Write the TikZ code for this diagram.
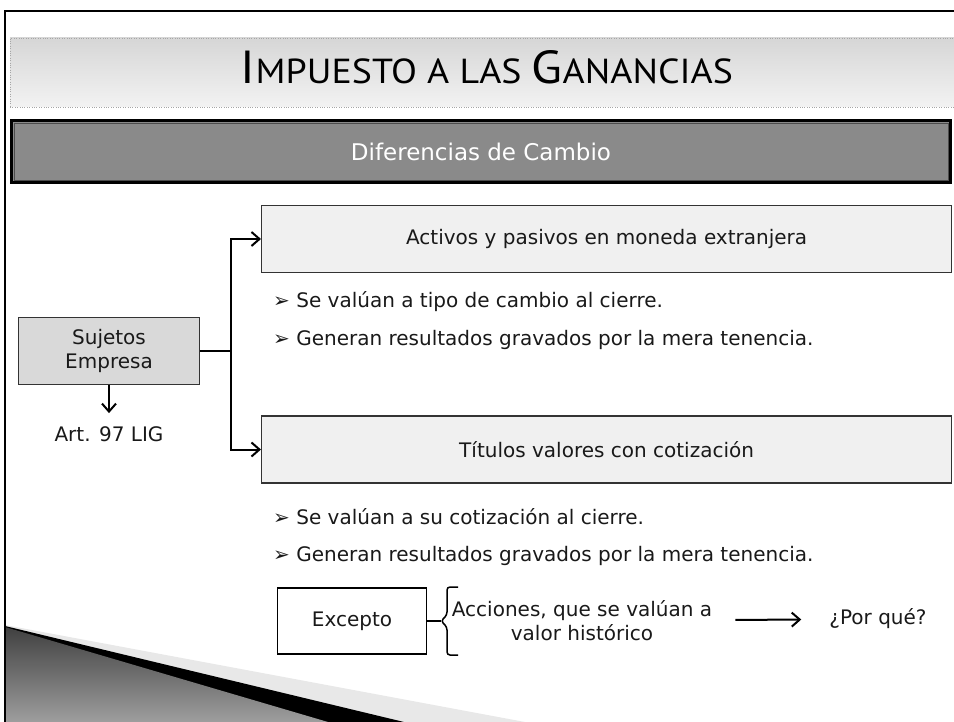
\documentclass[tikz,border=0pt]{standalone}
\usepackage{graphicx}
\usepackage{fontspec}
\setmainfont{DejaVu Sans}
\newfontfamily\titlefont{PT Sans}
\usetikzlibrary{calc, positioning, arrows.meta}

\begin{document}
\begin{tikzpicture}[x=1pt, y=-1pt, inner sep=2pt,
	txt/.style={font=\fontsize{20}{24}\selectfont, text=black!90},
	box/.style={txt, draw=black!80, line width=1.2pt, minimum height=67},
	bul/.style={txt, anchor=west},
	arr/.style={line width=2pt, -{Straight Barb[length=8pt, width=14pt, line width=2pt]}}]
	\useasboundingbox (0,0) rectangle (954,722);
	% cinta de abajo a la izquierda
	\fill[gray!18] (5,625) -- (525,722) -- (5,722) -- cycle;
	\fill[black] (5,626) -- (404,722) -- (5,722) -- cycle;
	\shade[top color=black!75, bottom color=black!38] (5,627) -- (328,722) -- (5,722) -- cycle;
	\draw[line width=2pt] (5,722) -- (5,11) -- (960,11);
	% encabezado
	\node (hdr) [draw=gray!70, dotted, top color=gray!32, bottom color=gray!10, minimum width=960, minimum height=69] at (490,72.5) {};
	\node (ttl) [inner sep=0pt] at (487,67.5)
		{\resizebox{492pt}{33pt}{\titlefont\fontsize{40}{40}\selectfont I\fontsize{30}{30}\selectfont MPUESTO A LAS \fontsize{40}{40}\selectfont G\fontsize{30}{30}\selectfont ANANCIAS}};
	\node (dif) [draw=black, line width=3pt, fill=black!46, minimum width=939, minimum height=62, text=white, font=\fontsize{23}{27}\selectfont] at (481,151.5) {Diferencias de Cambio};
	\draw[black!70, line width=0.8pt] ($(dif.north west)+(4,4)$) rectangle ($(dif.south east)+(-4,-4)$);
	% sujetos
	\node (suj) [box, fill=black!15, align=center, minimum width=181] at (109,351) {Sujetos\\Empresa};
	\node (art) [txt, below=39pt of suj] {Art. 97 LIG};
	\draw[arr, shorten >=11pt] (suj) -- (art);
	\node (act) [box, fill=black!6, minimum width=690, anchor=west] at (261,239) {Activos y pasivos en moneda extranjera};
	\node (tit) [box, fill=black!6, minimum width=690, anchor=west] at (261,449.5) {Títulos valores con cotización};
	\coordinate (split) at (231,351);
	\draw[line width=2pt] (suj.east) -- (split);
	\draw[arr] (split) |- (act.west);
	\draw[arr] (split) |- (tit.west);
	\node (b1) [bul] at (271,302) {➢ Se valúan a tipo de cambio al cierre.};
	\node (b2) [bul] at (271,340) {➢ Generan resultados gravados por la mera tenencia.};
	\node (b3) [bul] at (271,517) {➢ Se valúan a su cotización al cierre.};
	\node (b4) [bul] at (271,556) {➢ Generan resultados gravados por la mera tenencia.};
	% excepcion
	\node (exc) [txt, draw=black, line width=1.5pt, fill=white, minimum width=149, minimum height=66] at (352,621) {Excepto};
	\coordinate (tip) at (441,621);
	\draw[line width=1.5pt, rounded corners=3pt] (458,587) -- (447,587) -- (447,615) -- (tip) -- (447,627) -- (447,655) -- (458,655);
	\draw[line width=1.5pt] (exc.east) -- (tip);
	\node (acc) [txt, align=center] at (582,621) {Acciones, que se valúan a\\valor histórico};
	\node (pq) [txt] at (878,619) {¿Por qué?};
	\draw[arr, shorten <=21pt, shorten >=26pt] (acc) -- (pq);
\end{tikzpicture}
\end{document}
